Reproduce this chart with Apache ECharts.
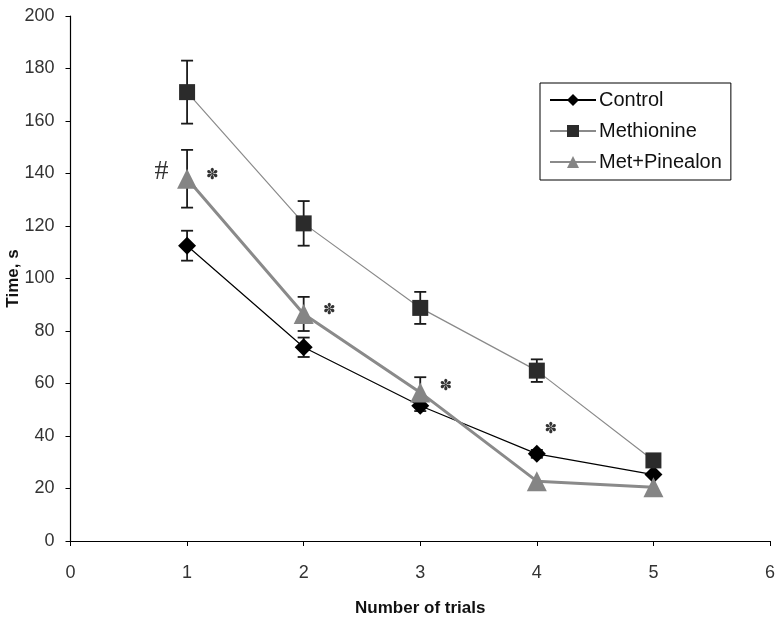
<!DOCTYPE html>
<html><head><meta charset="utf-8">
<script src="https://cdn.jsdelivr.net/npm/echarts@6/dist/echarts.min.js"></script>
<style>html,body{margin:0;padding:0;background:#fff}#c{width:779px;height:622px}</style>
</head><body><div id="c"></div>
<script>
const trials = [1, 2, 3, 4, 5];
const control = [112.5, 73.8, 51.5, 33.2, 25.3];
const controlErr = [5.7, 3.7, 2, 1.5, 0];
const methionine = [171, 121, 88.8, 64.9, 30.7];
const methionineErr = [12, 8.5, 6.1, 4.3, 0];
const metPinealon = [138, 86.5, 56.6, 22.8, 20.5];
const metPinealonErr = [11, 6.5, 5.8, 0, 0];
const annotX = [0.78, 1.217, 2.22, 3.22, 4.12];
const annotY = [140.6, 139.2, 88, 59, 42.5];
const annotText = ['#', '✽', '✽', '✽', '✽'];
const xTicks = [0, 6, 1];
const yTicks = [0, 200, 20];

function pts(vals) { return trials.map((t, i) => [t, vals[i]]); }
function errs(vals, e) { return trials.map((t, i) => [t, vals[i] - e[i], vals[i] + e[i]]).filter((d, i) => e[i] > 0); }

function errSeries(data) {
  return {
    type: 'custom', z: 1, silent: true,
    data: data,
    renderItem: function (params, api) {
      const x = api.value(0);
      const lo = api.coord([x, api.value(1)]);
      const hi = api.coord([x, api.value(2)]);
      const w = 6;
      const st = { stroke: '#1a1a1a', lineWidth: 1.8 };
      return { type: 'group', children: [
        { type: 'line', shape: { x1: lo[0], y1: lo[1], x2: hi[0], y2: hi[1] }, style: st },
        { type: 'line', shape: { x1: lo[0] - w, y1: lo[1], x2: lo[0] + w, y2: lo[1] }, style: st },
        { type: 'line', shape: { x1: hi[0] - w, y1: hi[1], x2: hi[0] + w, y2: hi[1] }, style: st }
      ]};
    }
  };
}

const chart = echarts.init(document.getElementById('c'), null, { renderer: 'canvas' });
const font = 'Liberation Sans, Arial, sans-serif';
chart.setOption({
  animation: false,
  backgroundColor: '#fff',
  grid: { left: 70.5, right: 9, top: 16, bottom: 81, containLabel: false, outerBoundsMode: 'none' },
  xAxis: {
    type: 'value', min: xTicks[0], max: xTicks[1], interval: xTicks[2],
    name: 'Number of trials', nameLocation: 'middle', nameGap: 59, nameMoveOverlap: false,
    nameTextStyle: { fontFamily: font, fontWeight: 'bold', fontSize: 17, color: '#111' },
    axisLine: { lineStyle: { color: '#000', width: 1.2 } },
    axisTick: { show: true, length: 5, lineStyle: { color: '#000' } },
    axisLabel: { fontFamily: font, fontSize: 18, color: '#333', margin: 23 },
    splitLine: { show: false }
  },
  yAxis: {
    type: 'value', min: yTicks[0], max: yTicks[1], interval: yTicks[2],
    name: 'Time, s', nameLocation: 'middle', nameGap: 49, nameRotate: 90, nameMoveOverlap: false,
    nameTextStyle: { fontFamily: font, fontWeight: 'bold', fontSize: 17, color: '#111' },
    axisLine: { show: true, lineStyle: { color: '#000', width: 1.2 } },
    axisTick: { show: true, length: 5, lineStyle: { color: '#000' } },
    axisLabel: { fontFamily: font, fontSize: 18, color: '#333', margin: 16 },
    splitLine: { show: false }
  },
  legend: {
    orient: 'vertical', left: 540, top: 83,
    padding: [7, 9, 8, 9], itemGap: 11, itemWidth: 46, itemHeight: 15,
    borderColor: '#000', borderWidth: 1, backgroundColor: '#fff',
    textStyle: { fontFamily: font, fontSize: 20, color: '#111', padding: [0, 0, 0, -2] },
    data: ['Control', 'Methionine', 'Met+Pinealon']
  },
  series: [
    errSeries(errs(control, controlErr)),
    errSeries(errs(methionine, methionineErr)),
    errSeries(errs(metPinealon, metPinealonErr)),
    { name: 'Control', type: 'line', z: 3, data: pts(control), symbol: 'diamond', symbolSize: 18,
      itemStyle: { color: '#000' }, lineStyle: { color: '#000', width: 1.2 } },
    { name: 'Methionine', type: 'line', z: 4, data: pts(methionine), symbol: 'rect', symbolSize: 16,
      itemStyle: { color: '#2b2b2b' }, lineStyle: { color: '#8a8a8a', width: 1.2 } },
    { name: 'Met+Pinealon', type: 'line', z: 5, data: pts(metPinealon), symbol: 'triangle', symbolSize: 20,
      itemStyle: { color: '#858585' }, lineStyle: { color: '#8a8a8a', width: 3 } },
    { type: 'scatter', z: 6, silent: true, symbolSize: 0,
      data: annotX.map((x, i) => ({ value: [x, annotY[i]], label: i === 0
        ? { formatter: annotText[i], fontFamily: 'Liberation Serif, serif', fontSize: 28, fontWeight: 'normal' }
        : { formatter: annotText[i], fontFamily: 'DejaVu Sans, sans-serif', fontSize: 15, fontWeight: 'bold' } })),
      label: { show: true, position: 'inside', color: '#000' } }
  ]
});
</script></body></html>
